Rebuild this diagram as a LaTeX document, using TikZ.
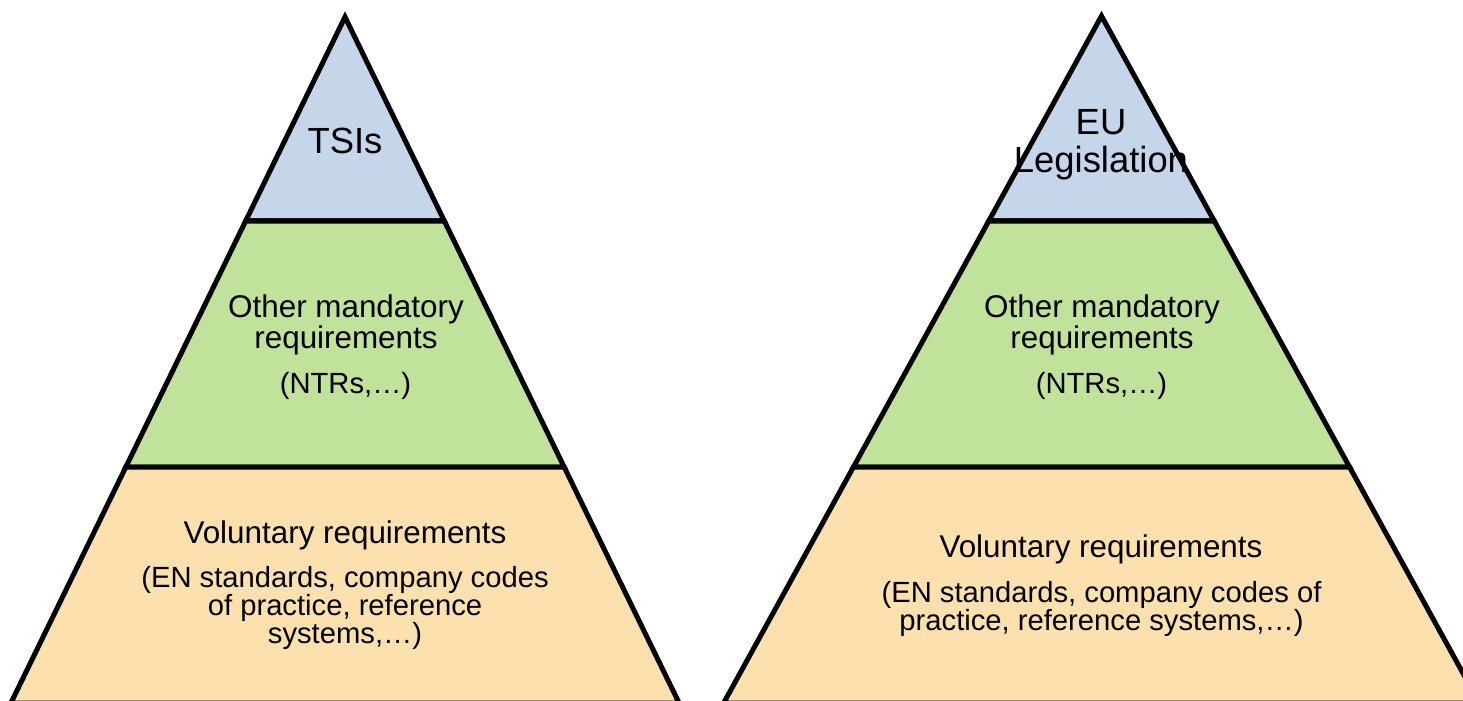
\documentclass[tikz,border=0pt]{standalone}
\usepackage{fontspec}
\setmainfont{Liberation Sans}
\usepackage{tikz}
\definecolor{tsiblue}{RGB}{197,213,234}
\definecolor{ntrgreen}{RGB}{192,226,154}
\definecolor{volorange}{RGB}{252,225,175}
\tikzset{
    layer/.style={draw=black, line width=2.5pt, line join=miter},
    lbl/.style={anchor=base, align=center, inner sep=0pt},
    toptext/.style={lbl, font=\fontsize{18.2}{19}\selectfont},
    midtext/.style={lbl, font=\fontsize{15.7}{15.5}\selectfont},
    notetext/.style={lbl, font=\fontsize{14.6}{14}\selectfont},
}

\begin{document}
\begin{tikzpicture}[x=0.5pt, y=-0.5pt]
    \useasboundingbox (0,0) rectangle (1463,701);
    % centre / apex / slope of each pyramid, layers cut at 221 and 467
    \foreach \cx/\ay/\k in {345/17/0.487, 1101.5/16/0.55} {
        \draw[layer, fill=tsiblue] (\cx,\ay) -- ({\cx-\k*(221-\ay)},221) -- ({\cx+\k*(221-\ay)},221) -- cycle;
        \draw[layer, fill=ntrgreen] ({\cx-\k*(221-\ay)},221) -- ({\cx-\k*(467-\ay)},467)
            -- ({\cx+\k*(467-\ay)},467) -- ({\cx+\k*(221-\ay)},221) -- cycle;
        \draw[layer, fill=volorange] ({\cx-\k*(467-\ay)},467) -- ({\cx-\k*(703-\ay)},703)
            -- ({\cx+\k*(703-\ay)},703) -- ({\cx+\k*(467-\ay)},467) -- cycle;
    }
    % multi-line labels sit on the baseline of their last line
    \node[toptext] (tsi) at (345,154) {TSIs};
    \node[toptext] (eu) at (1101,173) {EU\\Legislation};
    \node[midtext] (omr-l) at (346,348) {Other mandatory\\requirements};
    \node[notetext] (ntr-l) at (345.5,393) {(NTRs,…)};
    \node[midtext] (omr-r) at (1102,348) {Other mandatory\\requirements};
    \node[notetext] (ntr-r) at (1101.5,393) {(NTRs,…)};
    \node[midtext] (vol-l) at (345,543) {Voluntary requirements};
    \node[notetext] (ex-l) at (345,643) {(EN standards, company codes\\of practice, reference\\systems,…)};
    \node[midtext] (vol-r) at (1101,557) {Voluntary requirements};
    \node[notetext] (ex-r) at (1101.5,630) {(EN standards, company codes of\\practice, reference systems,…)};
\end{tikzpicture}
\end{document}
